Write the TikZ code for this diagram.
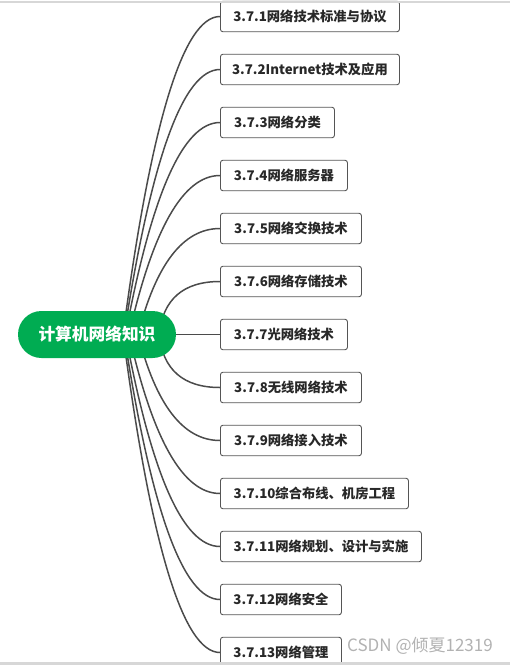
\documentclass[tikz,border=0pt]{standalone}
\usepackage{fontspec}
\setmainfont{Noto Sans CJK SC}
\pgfdeclarelayer{bg}
\pgfsetlayers{bg,main}
\definecolor{rootgreen}{RGB}{0,172,82}
\definecolor{conncol}{RGB}{75,75,75}
\definecolor{boxline}{RGB}{85,85,85}
\definecolor{boxtext}{RGB}{40,40,40}
\definecolor{wmcol}{RGB}{178,178,178}
\definecolor{framecol}{RGB}{215,215,215}
\tikzset{
  rootnode/.style={fill=rootgreen, text=white, rounded corners=23.5pt,
    minimum width=158pt, minimum height=47pt, inner sep=0pt,
    font=\bfseries\fontsize{16.7}{17}\selectfont},
  topicbox/.style={draw=boxline, line width=0.9pt, fill=white, rounded corners=2.5pt,
    anchor=west, minimum height=30.5pt, inner sep=0pt, text=boxtext,
    font=\bfseries\fontsize{13.3}{14}\selectfont},
  conn/.style={draw=conncol, line width=1.5pt},
}
\begin{document}
\begin{tikzpicture}[x=1pt,y=-1pt]
\useasboundingbox (0,0) rectangle (510,665);
% root
\node[rootnode] (root) at (97,334.5) {计算机网络知识};
% topics
\node[topicbox, minimum width=179pt] (b1) at (220,16.5) {3.7.1网络技术标准与协议};
\node[topicbox, minimum width=179pt] (b2) at (220,69.5) {3.7.2Internet技术及应用};
\node[topicbox, minimum width=114pt] (b3) at (220,122.5) {3.7.3网络分类};
\node[topicbox, minimum width=127pt] (b4) at (220,175.5) {3.7.4网络服务器};
\node[topicbox, minimum width=141pt] (b5) at (220,228.5) {3.7.5网络交换技术};
\node[topicbox, minimum width=141pt] (b6) at (220,281.5) {3.7.6网络存储技术};
\node[topicbox, minimum width=127pt] (b7) at (220,334.5) {3.7.7光网络技术};
\node[topicbox, minimum width=141pt] (b8) at (220,387.5) {3.7.8无线网络技术};
\node[topicbox, minimum width=141pt] (b9) at (220,440.5) {3.7.9网络接入技术};
\node[topicbox, minimum width=188pt] (b10) at (220,493.5) {3.7.10综合布线、机房工程};
\node[topicbox, minimum width=201pt] (b11) at (220,546.5) {3.7.11网络规划、设计与实施};
\node[topicbox, minimum width=121pt] (b12) at (220,599.5) {3.7.12网络安全};
\node[topicbox, minimum width=121pt] (b13) at (220,652.5) {3.7.13网络管理};
% connectors
\begin{pgfonlayer}{bg}
\fill[white] (0,0) rectangle (510,665);
\foreach \i/\yy/\px in {1/16.5/123, 2/69.5/124, 3/122.5/125.5, 4/175.5/129, 5/228.5/138, 6/281.5/159,
  8/387.5/159, 9/440.5/138, 10/493.5/129, 11/546.5/125.5, 12/599.5/124, 13/652.5/123}{
  \draw[conn] (root.center) -- (\px,334.5)
    .. controls ({\px+2/3*(165-\px)},{334.5+2/3*(\yy-334.5)}) and (183.3,\yy) .. (b\i.west);
}
\draw[conn] (root.center) -- (b7.west);
\end{pgfonlayer}
% frame
\draw[framecol, line width=1.2pt] (0,2) -- (510,2);
\fill[framecol] (0,662) rectangle (510,665);
% watermark
\node[anchor=west, inner sep=0pt, text=wmcol, font=\fontsize{17}{17}\selectfont] (wm) at (347,646) {CSDN @倾夏12319};
\end{tikzpicture}
\end{document}
